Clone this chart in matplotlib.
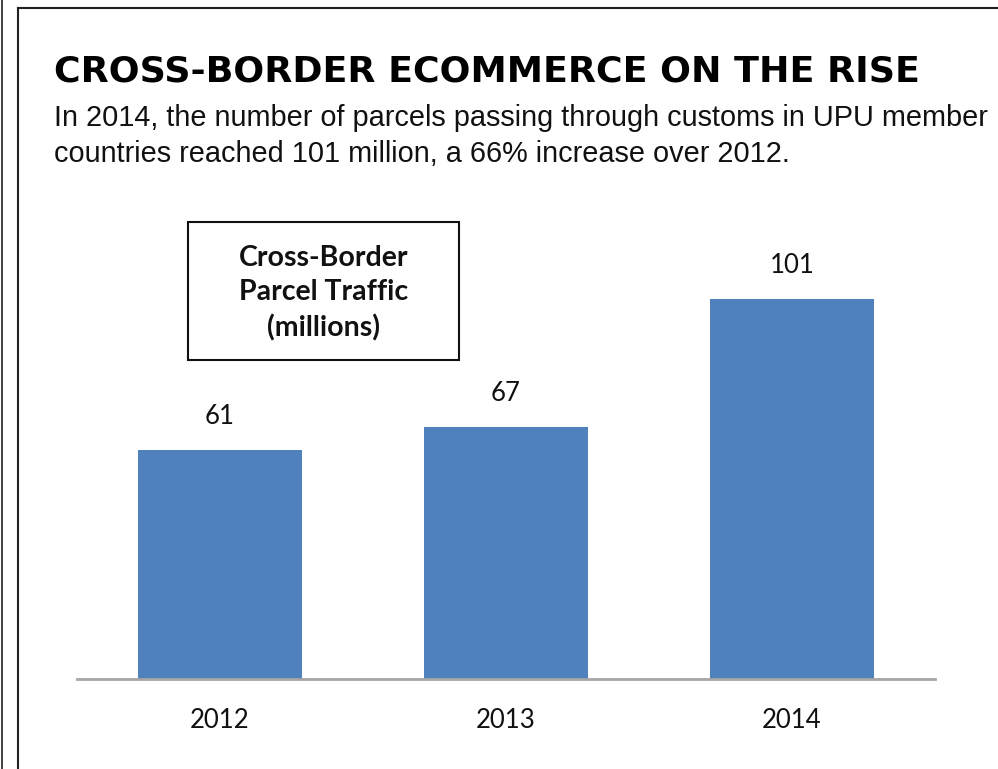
import matplotlib
matplotlib.use("Agg")
import matplotlib.pyplot as plt
from matplotlib.patches import Rectangle
from matplotlib.lines import Line2D

years = ["2012", "2013", "2014"]
parcels = [61, 67, 101]

title = "CROSS-BORDER ECOMMERCE ON THE RISE"
subtitle = ("In 2014, the number of parcels passing through customs in UPU member\n"
            "countries reached 101 million, a 66% increase over 2012.")
box_label = "Cross-Border\nParcel Traffic\n(millions)"

W, H = 998, 769
BAR_COLOR = "#4F81BD"


def fx(px):
    return px / W


def fy(py):
    return 1 - py / H


fig = plt.figure(figsize=(W / 100, H / 100), dpi=100)
fig.patch.set_facecolor("white")

# page frame
fig.add_artist(Line2D([fx(1.5), fx(1.5)], [0, 1], color="#222222", lw=1.2))
fig.add_artist(Line2D([fx(17.5), fx(17.5)], [0, fy(8)], color="#222222", lw=1.5))
fig.add_artist(Line2D([fx(17.5), 1], [fy(8), fy(8)], color="#222222", lw=1.5))

fig.text(fx(54), fy(71), title, fontsize=26.2, fontweight="bold",
         family="DejaVu Sans", va="center", ha="left", color="black")
fig.text(fx(54), fy(136), subtitle, fontsize=20.8, family="Liberation Sans",
         va="center", ha="left", color="#111111", linespacing=1.34)

# axes: baseline at y=679, x from 77 to 935
ymax = 120
top_px = 679 - ymax * 3.76
ax = fig.add_axes([fx(77), fy(679), fx(935) - fx(77), (679 - top_px) / H])
x = range(len(years))
bars = ax.bar(x, parcels, width=0.57, color=BAR_COLOR, zorder=2)
ax.set_xlim(-0.5, 2.5)
ax.set_ylim(0, ymax)
for s in ["top", "left", "right"]:
    ax.spines[s].set_visible(False)
ax.spines["bottom"].set_color("#A6A6A6")
ax.spines["bottom"].set_linewidth(2)
ax.set_yticks([])
ax.set_xticks(list(x))
ax.set_xticklabels(years, family="Lato", fontsize=18.5, color="#111111")
ax.tick_params(axis="x", length=0, pad=21)

for xi, v in zip(x, parcels):
    ax.annotate(str(v), (xi, v), xytext=(0, 21), textcoords="offset pixels",
                ha="center", va="bottom", family="Lato", fontsize=18.5,
                color="#111111")

# legend-like box
fig.add_artist(Rectangle((fx(188), fy(360)), fx(459) - fx(188), fy(222) - fy(360),
                         transform=fig.transFigure, fill=False,
                         edgecolor="#111111", lw=1.5))
fig.text(fx(323.5), fy(293), box_label, ha="center", va="center",
         family="Lato", fontweight="bold", fontsize=20.5, linespacing=1.4,
         color="#111111")

fig.savefig("out.png", dpi=100)
